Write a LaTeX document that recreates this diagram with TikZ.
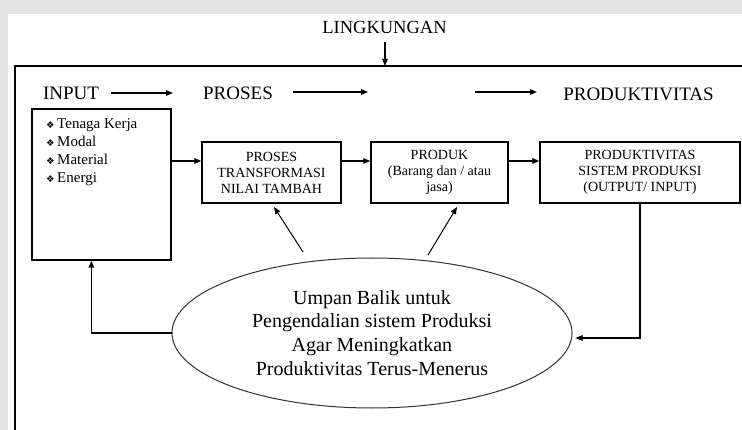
\documentclass[tikz,border=0pt]{standalone}
\usepackage{fontspec}
\setmainfont{Liberation Serif}
\newfontfamily\symfont{DejaVu Sans}
\newcommand\bulsym{{\symfont\fontsize{9.5}{10}\selectfont ❖}}
\usetikzlibrary{arrows.meta,shapes.geometric}

\begin{document}
\begin{tikzpicture}[x=1pt,y=-1pt,
  line/.style={line width=1.2pt, draw=black},
  arr/.style={line, -{Triangle[length=7pt,width=5.5pt]}},
  box/.style={draw, line width=1.3pt, align=center, font=\fontsize{14}{16}\selectfont, inner sep=0pt},
  head/.style={anchor=base, font=\fontsize{19}{22}\selectfont, inner sep=0pt},
  item/.style={anchor=base west, font=\fontsize{15}{17}\selectfont, inner sep=0pt}
]
\useasboundingbox (0,0) rectangle (742,430);
\clip (0,0) rectangle (742,430);
\fill[gray!22] (0,0) rectangle (742,430);
\fill[white] (8,14) rectangle (742,430);
% frame
\draw[line width=1.3pt] (15,440) -- (15,66) -- (760,66);

% environment
\node[anchor=base, font=\fontsize{18.5}{21}\selectfont, inner sep=0pt] (lingk) at (384.5,34) {LINGKUNGAN};
\coordinate (lgA) at (385,42);
\coordinate (lgB) at (385,66);
\draw[arr] (lgA) -- (lgB);

% headings
\node[head] (hin) at (71,100) {INPUT};
\node[head] (hpr) at (238,100) {PROSES};
\node[head] (hout) at (638.5,101) {PRODUKTIVITAS};
\coordinate (h1a) at (111,93); \coordinate (h1b) at (173,93);
\coordinate (h2a) at (293,92); \coordinate (h2b) at (368,92);
\coordinate (h3a) at (475,92); \coordinate (h3b) at (537,92);
\draw[arr] (h1a) -- (h1b);
\draw[arr] (h2a) -- (h2b);
\draw[arr] (h3a) -- (h3b);

% input box
\node[box, minimum width=139pt, minimum height=151pt] (inbox) at (101.5,184.5) {};
\node[item] (i1) at (46,129) {\bulsym\,Tenaga Kerja};
\node[item] (i2) at (46,147) {\bulsym\,Modal};
\node[item] (i3) at (46,165) {\bulsym\,Material};
\node[item] (i4) at (46,183) {\bulsym\,Energi};

% process boxes
\node[box, minimum width=139pt, minimum height=61pt] (box1) at (271.5,172.5) {PROSES\\TRANSFORMASI\\NILAI TAMBAH};
\node[box, minimum width=137pt, minimum height=61pt] (box2) at (439.5,172.5) {PRODUK\\(Barang dan / atau\\jasa)};
\node[box, minimum width=200pt, minimum height=61pt] (box3) at (640,172.5) {PRODUKTIVITAS\\SISTEM PRODUKSI\\(OUTPUT/ INPUT)};

\coordinate (y161) at (0,161);
\draw[arr] (inbox.east |- y161) -- (box1.west |- y161);
\draw[arr] (box1.east |- y161) -- (box2.west |- y161);
\draw[arr] (box2.east |- y161) -- (box3.west |- y161);

% feedback ellipse
\node[ellipse, draw=black!80, line width=1pt, minimum width=400pt, minimum height=150pt, inner sep=0pt, align=center, font=\fontsize{20}{23.7}\selectfont] (ell) at (372,333)
  {Umpan Balik untuk\\Pengendalian sistem Produksi\\Agar Meningkatkan\\Produktivitas Terus-Menerus};

\draw[arr] (ell.west) -| ([xshift=60pt]inbox.south west);
\draw[arr, shorten >=3pt] (box3.south) |- ([yshift=-5pt]ell.east);

\coordinate (d1s) at (303,252); \coordinate (d1e) at (274,207);
\coordinate (d2s) at (428,255); \coordinate (d2e) at (457,207);
\draw[arr, line width=1pt] (d1s) -- (d1e);
\draw[arr, line width=1pt] (d2s) -- (d2e);
\end{tikzpicture}
\end{document}
